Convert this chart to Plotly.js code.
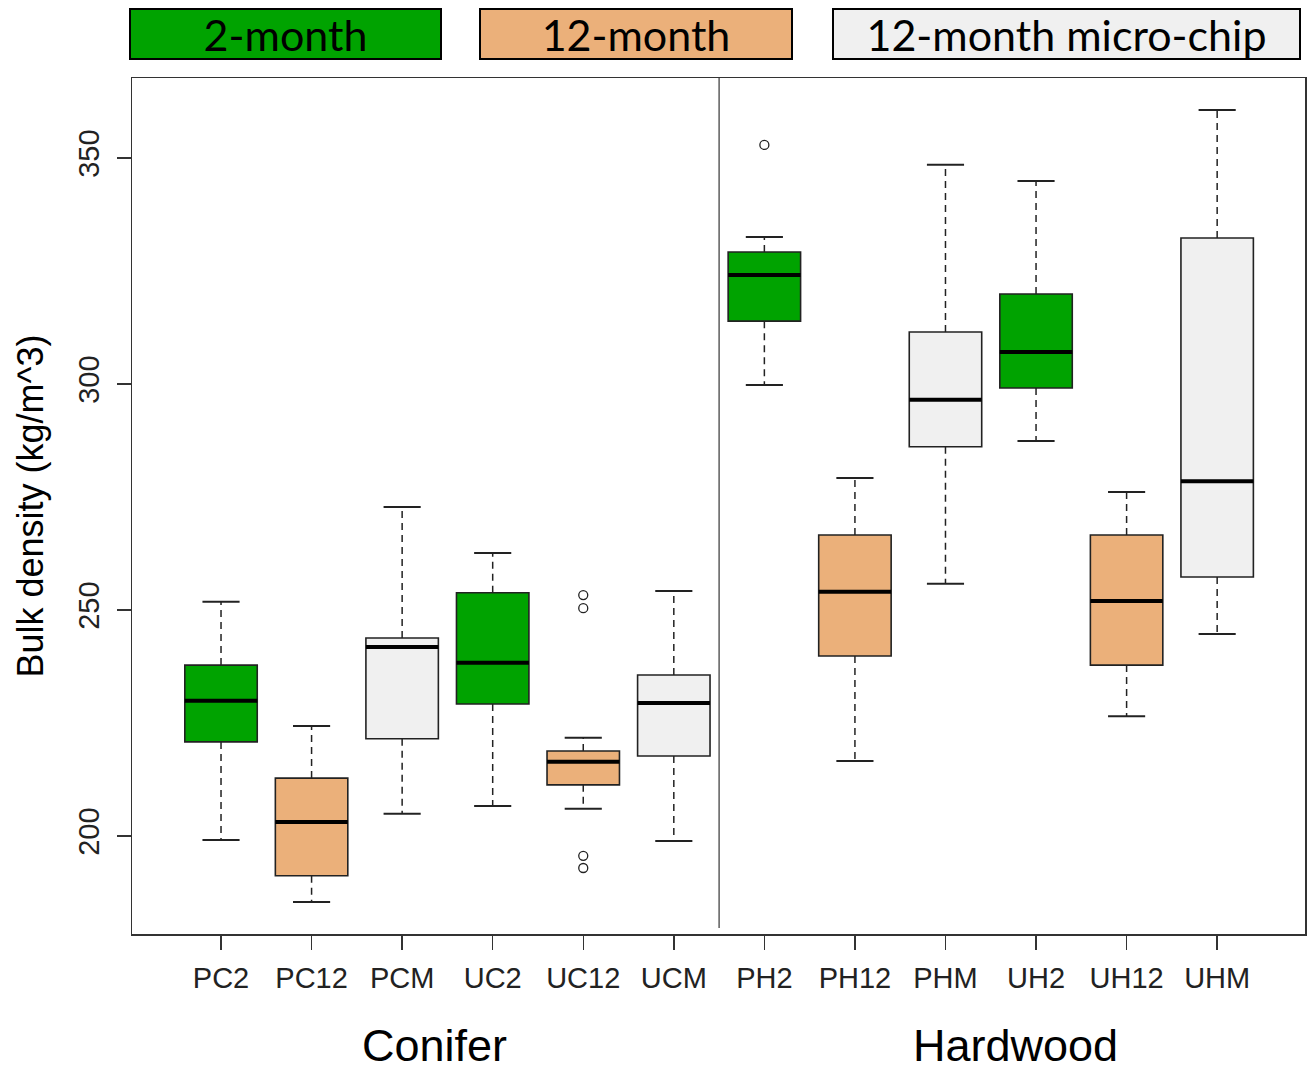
<!DOCTYPE html>
<html><head><meta charset="utf-8">
<script src="https://cdn.plot.ly/plotly-3.0.1.min.js"></script>
<style>html,body{margin:0;padding:0;background:#fff}#chart{width:1308px;height:1073px}</style>
</head><body><div id="chart"></div>
<script>
// ---- data ----
const categories = ['PC2','PC12','PCM','UC2','UC12','UCM','PH2','PH12','PHM','UH2','UH12','UHM'];
const treatment  = ['2-month','12-month','12-month micro-chip','2-month','12-month','12-month micro-chip',
                    '2-month','12-month','12-month micro-chip','2-month','12-month','12-month micro-chip'];
const lowerWhisker = [199.1, 185.4, 204.9, 206.6, 206.0, 198.9, 299.8, 216.6, 255.8, 287.4, 226.5, 244.7];
const q1           = [220.8, 191.2, 221.5, 229.2, 211.3, 217.7, 313.9, 239.8, 286.1, 299.1, 237.8, 257.3];
const median       = [229.9, 203.1, 241.8, 238.3, 216.4, 229.4, 324.1, 254.0, 296.5, 307.1, 252.0, 278.5];
const q3           = [237.8, 212.8, 243.8, 253.8, 218.8, 235.6, 329.2, 266.6, 311.5, 319.9, 266.6, 332.3];
const upperWhisker = [251.8, 224.3, 272.8, 262.6, 221.7, 254.2, 332.5, 279.2, 348.5, 344.9, 276.1, 360.6];
const outlierCategory = ['UC12','UC12','UC12','UC12','PH2'];
const outlierValue    = [253.3, 250.4, 195.6, 192.9, 352.9];
const groupLabels = ['Conifer','Hardwood'];
const groupSizes  = [6, 6];
const legendLabels = ['2-month','12-month','12-month micro-chip'];
const legendColors = ['#00A300','#EBB07A','#F0F0F0'];
const yTicks = [200, 250, 300, 350];

// ---- build ----
const idx = categories.map((c,i)=>i);
const BOXW = 0.8, CAPW = 0.41;
const traces = [];
legendLabels.forEach((lab, k) => {
  const sel = idx.filter(i => treatment[i] === lab);
  traces.push({
    type:'box', name:lab, showlegend:false, hoverinfo:'skip',
    x: sel, q1: sel.map(i=>q1[i]), median: sel.map(i=>median[i]), q3: sel.map(i=>q3[i]),
    lowerfence: sel.map(i=>q1[i]), upperfence: sel.map(i=>q3[i]),
    width: BOXW, whiskerwidth: 0, boxpoints:false,
    fillcolor: legendColors[k], line:{color:'#222', width:1.6}
  });
});
// whiskers (dashed)
const wx=[], wy=[];
idx.forEach(i=>{ wx.push(i,i,null,i,i,null); wy.push(q3[i],upperWhisker[i],null,q1[i],lowerWhisker[i],null); });
traces.push({type:'scatter', mode:'lines', x:wx, y:wy, showlegend:false, hoverinfo:'skip',
  line:{color:'#222', width:1.5, dash:'7px,5px'}});
// caps
const cx=[], cy=[];
idx.forEach(i=>{ cx.push(i-CAPW/2,i+CAPW/2,null,i-CAPW/2,i+CAPW/2,null); cy.push(upperWhisker[i],upperWhisker[i],null,lowerWhisker[i],lowerWhisker[i],null); });
traces.push({type:'scatter', mode:'lines', x:cx, y:cy, showlegend:false, hoverinfo:'skip',
  line:{color:'#222', width:2}});
// medians
const mx=[], my=[];
idx.forEach(i=>{ mx.push(i-BOXW/2,i+BOXW/2,null); my.push(median[i],median[i],null); });
traces.push({type:'scatter', mode:'lines', x:mx, y:my, showlegend:false, hoverinfo:'skip',
  line:{color:'#000', width:4}});
// outliers
traces.push({type:'scatter', mode:'markers', showlegend:false, hoverinfo:'skip',
  x: outlierCategory.map(c=>categories.indexOf(c)), y: outlierValue,
  marker:{symbol:'circle-open', size:9, color:'#222', line:{width:1.3}}});

const annotations = [];
// group labels
const groupCenters = [2.36, 8.77];
groupLabels.forEach((g, j) => {
  annotations.push({text:g, xref:'x', yref:'paper', x:groupCenters[j], y:-0.1303, xanchor:'center', yanchor:'middle',
    showarrow:false, font:{family:'Liberation Sans, Arial, sans-serif', size:45, color:'#000'}});
});
// legend boxes
const legX = [0.1309, 0.4297, 0.7967];
const legW = [309, 310, 465];
legendLabels.forEach((lab,k)=>{
  annotations.push({text:lab, xref:'paper', yref:'paper', x:legX[k], y:1.0514, xanchor:'center', yanchor:'middle',
    showarrow:false, width:legW[k], height:48, bgcolor:legendColors[k], bordercolor:'#000', borderwidth:2, borderpad:0,
    font:{family:'Lato, sans-serif', size:43, color:'#000'}});
});

const layout = {
  width:1308, height:1073,
  margin:{l:132, r:3, t:78, b:139},
  paper_bgcolor:'#fff', plot_bgcolor:'#fff',
  showlegend:false,
  xaxis:{range:[-0.983, 11.97], tickvals: idx, ticktext: categories, showgrid:false, zeroline:false,
    showline:true, mirror:true, linecolor:'#333', linewidth:1.5,
    ticks:'outside', ticklen:14, tickwidth:1.5, tickcolor:'#333', ticklabelstandoff:4,
    tickfont:{family:'Liberation Sans, Arial, sans-serif', size:29, color:'#222'}},
  yaxis:{range:[178.3, 367.7], tickvals:yTicks, showgrid:false, zeroline:false,
    showline:true, mirror:true, linecolor:'#333', linewidth:1.5,
    ticks:'outside', ticklen:14, tickwidth:1.5, tickcolor:'#333', tickangle:-90, ticklabelstandoff:6,
    tickfont:{family:'Liberation Sans, Arial, sans-serif', size:29, color:'#222'},
    title:{text:'Bulk density (kg/m^3)', standoff:18, font:{family:'Liberation Sans, Arial, sans-serif', size:36, color:'#000'}}},
  shapes:[{type:'line', xref:'x', yref:'paper', x0:groupSizes[0]-0.5, x1:groupSizes[0]-0.5, y0:0.007, y1:1,
    line:{color:'#333', width:1.2}}],
  annotations
};
Plotly.newPlot('chart', traces, layout, {displayModeBar:false, staticPlot:true});
</script>
</body></html>
